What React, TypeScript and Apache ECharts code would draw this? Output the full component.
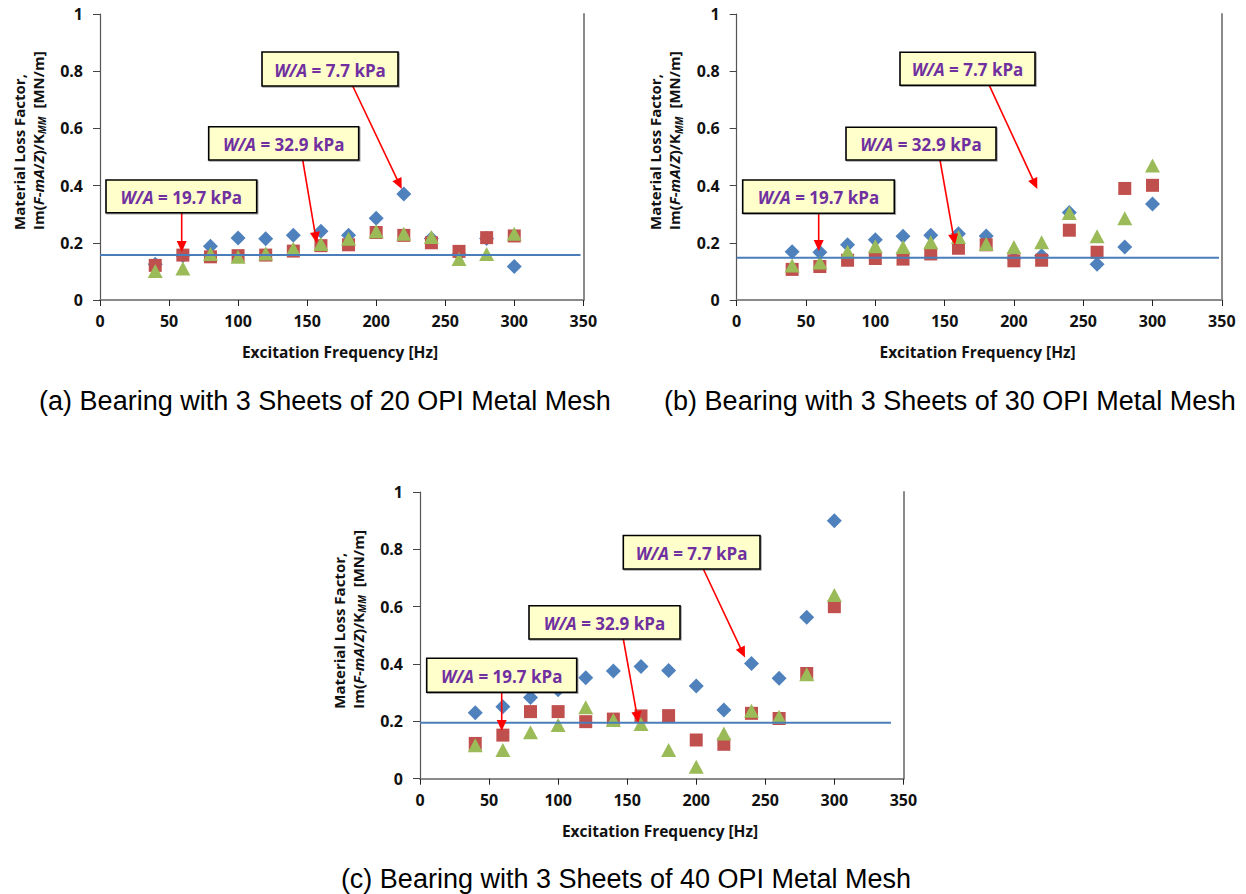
import React, { useEffect, useRef } from "react";
import * as echarts from "echarts";

// ---------- data ----------
const freq = [40, 60, 80, 100, 120, 140, 160, 180, 200, 220, 240, 260, 280, 300];

const aBlue = [0.125, 0.155, 0.188, 0.217, 0.214, 0.226, 0.24, 0.226, 0.286, 0.371, 0.215, 0.16, 0.215, 0.117];
const aRed = [0.121, 0.157, 0.151, 0.155, 0.157, 0.171, 0.19, 0.193, 0.236, 0.226, 0.2, 0.17, 0.218, 0.224];
const aGreen = [0.101, 0.11, 0.161, 0.151, 0.163, 0.179, 0.196, 0.214, 0.24, 0.232, 0.22, 0.143, 0.161, 0.232];

const bBlue = [0.169, 0.167, 0.193, 0.211, 0.223, 0.226, 0.232, 0.224, 0.145, 0.155, 0.306, 0.125, 0.185, 0.336];
const bRed = [0.107, 0.117, 0.139, 0.145, 0.143, 0.161, 0.181, 0.193, 0.137, 0.139, 0.244, 0.167, 0.39, 0.401];
const bGreen = [0.121, 0.131, 0.169, 0.188, 0.185, 0.202, 0.22, 0.196, 0.185, 0.202, 0.304, 0.223, 0.286, 0.47];

const cBlue = [0.23, 0.251, 0.283, 0.31, 0.352, 0.376, 0.391, 0.377, 0.323, 0.24, 0.402, 0.35, 0.563, 0.9];
const cRed = [0.123, 0.152, 0.234, 0.234, 0.199, 0.208, 0.219, 0.22, 0.135, 0.12, 0.228, 0.21, 0.367, 0.6];
const cGreen = [0.117, 0.1, 0.162, 0.187, 0.249, 0.205, 0.191, 0.1, 0.042, 0.158, 0.237, 0.216, 0.364, 0.641];

const refLevels = [0.157, 0.148, 0.195];
const refEnds = [348, 348, 341];

const captions = [
  "(a) Bearing with 3 Sheets of 20 OPI Metal Mesh",
  "(b) Bearing with 3 Sheets of 30 OPI Metal Mesh",
  "(c) Bearing with 3 Sheets of 40 OPI Metal Mesh",
];
const loads = ["7.7", "32.9", "19.7"];
const xTitle = "Excitation Frequency [Hz]";

// ---------- layout ----------
const FONT = "Open Sans";
const CAPFONT = "Liberation Sans";
const grids = [
  { left: 100, top: 14, width: 483.3, height: 286 },
  { left: 736.7, top: 14, width: 485.1, height: 286 },
  { left: 420, top: 492, width: 483.4, height: 286.7 },
];
const captionPos = [
  [325, 401],
  [950, 401],
  [626, 879],
];

// annotation boxes [x, y, w, h] and arrows [x1,y1,x2,y2], in order 7.7, 32.9, 19.7
const boxes = [
  [
    [262, 52, 136, 34],
    [208.7, 126.7, 150, 33.3],
    [106, 180, 150.7, 32.7],
  ],
  [
    [900, 52.3, 135, 33],
    [846, 127.3, 150, 32.7],
    [742.7, 180, 151.6, 33.3],
  ],
  [
    [623.3, 535.5, 136.7, 33.5],
    [529, 605.7, 151, 33.3],
    [426.7, 658.3, 150, 34],
  ],
];
const arrows = [
  [
    [352.7, 86, 401.7, 189],
    [302.7, 160, 316.7, 243],
    [181.7, 212.7, 181.7, 252],
  ],
  [
    [989.3, 85.3, 1037.3, 189],
    [940, 160, 955, 245],
    [818.7, 213.3, 818.7, 251],
  ],
  [
    [703.3, 569, 745, 657.5],
    [623.3, 639, 638.3, 722.5],
    [501.7, 692.3, 501.7, 731],
  ],
];

const BLUE = "#4F81BD";
const RED = "#C0504D";
const GREEN = "#9BBB59";

function pairs(v: number[]) {
  return freq.map((f, i) => [f, v[i]]);
}

function arrowEls(a: number[]) {
  const [x1, y1, x2, y2] = a;
  const dx = x2 - x1;
  const dy = y2 - y1;
  const len = Math.sqrt(dx * dx + dy * dy);
  const ux = dx / len;
  const uy = dy / len;
  const nx = -uy;
  const ny = ux;
  const L = 11;
  const W = 5;
  const bx = x2 - ux * L;
  const by = y2 - uy * L;
  return [
    {
      type: "line",
      z: 100,
      shape: { x1, y1, x2: bx + ux * 2, y2: by + uy * 2 },
      style: { stroke: "#FF0000", lineWidth: 1.6 },
    },
    {
      type: "polygon",
      z: 100,
      shape: {
        points: [
          [x2, y2],
          [bx + nx * W, by + ny * W],
          [bx - nx * W, by - ny * W],
        ],
      },
      style: { fill: "#FF0000" },
    },
  ];
}

function boxEls(b: number[], load: string) {
  const [x, y, w, h] = b;
  return [
    {
      type: "rect",
      z: 100,
      shape: { x, y, width: w, height: h },
      style: { fill: "#FFFFCC", stroke: "#000", lineWidth: 1.6, shadowColor: "rgba(0,0,0,0.35)", shadowOffsetX: 1, shadowOffsetY: 1, shadowBlur: 1 },
    },
    {
      type: "text",
      z: 101,
      x: x + w / 2,
      y: y + h / 2 + 1,
      style: {
        text: `{i|W/A}{n| = ${load} kPa}`,
        align: "center",
        verticalAlign: "middle",
        rich: {
          i: { fontFamily: FONT, fontSize: 17, fontWeight: "bold", fontStyle: "italic", fill: "#7030A0" },
          n: { fontFamily: FONT, fontSize: 17, fontWeight: "bold", fill: "#7030A0" },
        },
      },
    },
  ];
}

export default function App() {
  const ref = useRef<HTMLDivElement>(null);

  useEffect(() => {
    if (!ref.current) return;
    const chart = echarts.init(ref.current, null, { renderer: "svg" });
    const sets = [
      [aBlue, aRed, aGreen],
      [bBlue, bRed, bGreen],
      [cBlue, cRed, cGreen],
    ];

    const xAxis: any[] = [];
    const yAxis: any[] = [];
    const series: any[] = [];
    const graphic: any[] = [];

    grids.forEach((g, i) => {
      xAxis.push({
        type: "value",
        gridIndex: i,
        min: 0,
        max: 350,
        interval: 50,
        axisLine: { show: true, lineStyle: { color: "#8a8a8a", width: 2 } },
        axisTick: { show: true, length: 6, lineStyle: { color: "#222", width: 1 } },
        axisLabel: { margin: 13, fontFamily: FONT, fontSize: 16, fontWeight: "bold", color: "#111" },
        splitLine: { show: false },
      });
      yAxis.push({
        type: "value",
        gridIndex: i,
        min: 0,
        max: 1,
        interval: 0.2,
        axisLine: { show: true, lineStyle: { color: "#555", width: 1.2 } },
        axisTick: { show: true, length: 7, lineStyle: { color: "#444", width: 1 } },
        axisLabel: { margin: 17, fontFamily: FONT, fontSize: 16, fontWeight: "bold", color: "#111" },
        splitLine: { show: false },
      });
      yAxis.push({
        type: "value",
        gridIndex: i,
        position: "right",
        min: 0,
        max: 1,
        interval: 0.2,
        axisLine: { show: true, lineStyle: { color: "#8a8a8a", width: 2 } },
        axisTick: { show: false },
        axisLabel: { show: false },
        splitLine: { show: false },
      });

      const [bl, rd, gr] = sets[i];
      series.push({
        type: "scatter",
        xAxisIndex: i,
        yAxisIndex: i * 2,
        symbol: "diamond",
        symbolSize: [15, 15],
        itemStyle: { color: BLUE, opacity: 1 },
        data: pairs(bl),
        z: 2,
      });
      series.push({
        type: "scatter",
        xAxisIndex: i,
        yAxisIndex: i * 2,
        symbol: "rect",
        symbolSize: [13, 13],
        itemStyle: { color: RED, opacity: 1 },
        data: pairs(rd),
        z: 3,
      });
      series.push({
        type: "scatter",
        xAxisIndex: i,
        yAxisIndex: i * 2,
        symbol: "triangle",
        symbolSize: [15, 14],
        itemStyle: { color: GREEN, opacity: 1 },
        data: pairs(gr),
        z: 4,
      });
      series.push({
        type: "line",
        xAxisIndex: i,
        yAxisIndex: i * 2,
        symbol: "none",
        lineStyle: { color: "#4A7EBB", width: 2 },
        data: [
          [0, refLevels[i]],
          [refEnds[i], refLevels[i]],
        ],
        z: 5,
      });

      // axis titles
      graphic.push({
        type: "text",
        x: g.left + g.width * (240 / 483.3),
        y: g.top + g.height + 52,
        style: {
          text: xTitle,
          align: "center",
          verticalAlign: "middle",
          fontFamily: FONT,
          fontSize: 15.5,
          fontWeight: "bold",
          fill: "#111",
        },
      });
      const bottomY = g.top + g.height - 70;
      graphic.push({
        type: "text",
        x: g.left - 81.5,
        y: bottomY,
        rotation: Math.PI / 2,
        style: {
          text: "Material Loss Factor,",
          align: "left",
          verticalAlign: "middle",
          fontFamily: FONT,
          fontSize: 15,
          fontWeight: "bold",
          fill: "#111",
        },
      });
      graphic.push({
        type: "text",
        x: g.left - 62.5,
        y: bottomY,
        rotation: Math.PI / 2,
        style: {
          text: "{n|Im(}{i|F}{n|-}{i|mA}{n|/}{i|Z}{n|)/K}{s|MM}{n|  [MN/m]}",
          align: "left",
          verticalAlign: "middle",
          rich: {
            n: { fontFamily: FONT, fontSize: 15, fontWeight: "bold", fill: "#111", lineHeight: 19 },
            i: { fontFamily: FONT, fontSize: 15, fontWeight: "bold", fontStyle: "italic", fill: "#111", lineHeight: 19 },
            s: { fontFamily: FONT, fontSize: 10, fontWeight: "bold", fontStyle: "italic", fill: "#111", verticalAlign: "bottom", lineHeight: 19 },
          },
        },
      });

      // caption
      graphic.push({
        type: "text",
        x: captionPos[i][0],
        y: captionPos[i][1],
        style: {
          text: captions[i],
          align: "center",
          verticalAlign: "middle",
          fontFamily: CAPFONT,
          fontSize: 27,
          fill: "#000",
        },
      });

      // annotations
      loads.forEach((ld, k) => {
        graphic.push(...arrowEls(arrows[i][k]));
        graphic.push(...boxEls(boxes[i][k], ld));
      });
    });

    chart.setOption({
      animation: false,
      backgroundColor: "#fff",
      textStyle: { fontFamily: FONT },
      grid: grids.map((g) => ({ ...g, containLabel: false })),
      xAxis,
      yAxis,
      series,
      graphic,
    });

    return () => {
      chart.dispose();
    };
  }, []);

  return (
    <div
      ref={ref}
      style={{ position: "absolute", left: 0, top: 0, width: 1246, height: 894, background: "#fff" }}
    />
  );
}
